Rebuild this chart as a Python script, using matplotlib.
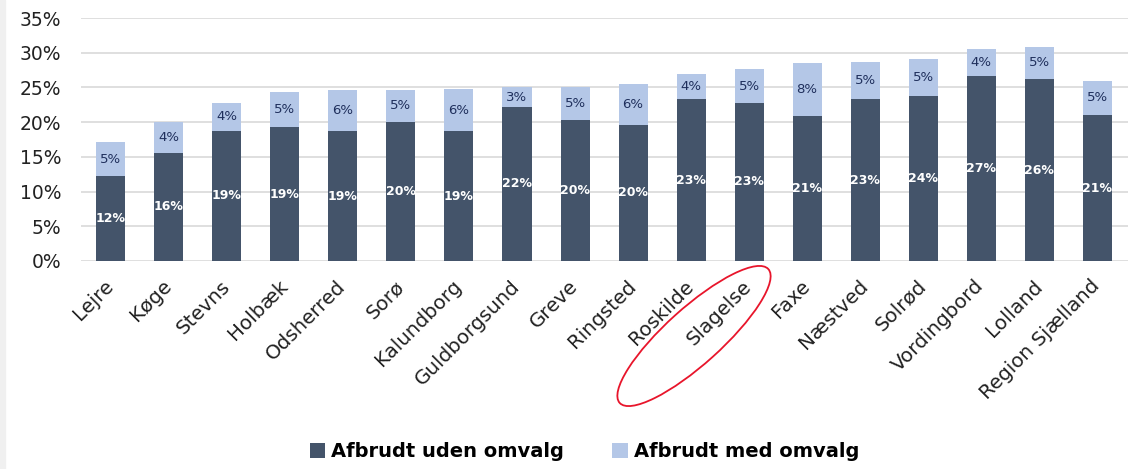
import matplotlib
matplotlib.use("Agg")
import matplotlib.pyplot as plt
from matplotlib.patches import Ellipse, Rectangle
from matplotlib.ticker import PercentFormatter
import numpy as np

kommuner = ["Lejre", "Køge", "Stevns", "Holbæk", "Odsherred", "Sorø", "Kalundborg",
            "Guldborgsund", "Greve", "Ringsted", "Roskilde", "Slagelse", "Faxe",
            "Næstved", "Solrød", "Vordingbord", "Lolland", "Region Sjælland"]
uden_omvalg = [12.2, 15.6, 18.8, 19.3, 18.7, 20.0, 18.7, 22.2, 20.3, 19.6,
               23.3, 22.8, 20.9, 23.3, 23.8, 26.6, 26.2, 21.0]
med_omvalg = [4.9, 4.4, 4.0, 5.1, 5.9, 4.7, 6.1, 2.8, 4.8, 5.9,
              3.7, 4.8, 7.6, 5.4, 5.3, 4.0, 4.7, 5.0]
yticks = [0, 5, 10, 15, 20, 25, 30, 35]

dark = "#44546A"
light = "#B4C7E7"

plt.rcParams["font.family"] = ["DejaVu Sans"]
fig = plt.figure(figsize=(11.37, 4.69), dpi=100)
ax = fig.add_axes([0.071, 0.4435, 0.921, 0.518])

x = np.arange(len(kommuner))
b1 = ax.bar(x, uden_omvalg, width=0.5, color=dark, zorder=3,
            label="Afbrudt uden omvalg")
b2 = ax.bar(x, med_omvalg, width=0.5, bottom=uden_omvalg, color=light, zorder=3,
            label="Afbrudt med omvalg")
ax.bar_label(b1, labels=[f"{round(v)}%" for v in uden_omvalg], label_type="center",
             color="white", fontsize=9, fontweight="bold")
ax.bar_label(b2, labels=[f"{round(v)}%" for v in med_omvalg], label_type="center",
             color="#1F2F5C", fontsize=9.5)

ax.set_ylim(0, 35)
ax.set_xlim(-0.52, 17.53)
ax.set_yticks(yticks)
ax.yaxis.set_major_formatter(PercentFormatter(decimals=0))
ax.grid(axis="y", color="#D9D9D9", linewidth=1.2, zorder=0)
for s in ax.spines.values():
    s.set_visible(False)
ax.tick_params(axis="both", length=0, colors="#222222")
ax.tick_params(axis="y", pad=14, labelsize=13.5)
ax.set_xticks(x)
ax.set_xticklabels(kommuner, rotation=45, ha="right", va="center",
                   rotation_mode="anchor", fontsize=14.3)
ax.tick_params(axis="x", pad=16)

fig.legend(loc="lower center", bbox_to_anchor=(0.514, -0.02), ncol=2, frameon=False,
           handlelength=0.8, handleheight=0.8, handletextpad=0.3, columnspacing=2.5,
           prop={"size": 14, "weight": "bold"})

# red ring round Slagelse
fig.patches.append(Ellipse((6.94, 1.33), 2.0, 0.56, angle=42, fill=False,
                           edgecolor="#E8152B", linewidth=1.3,
                           transform=fig.dpi_scale_trans))
# gray strip at left edge
fig.patches.append(Rectangle((0, 0), 0.004, 1, color="#F0F0F0",
                             transform=fig.transFigure))

fig.savefig("out.png", dpi=100)
